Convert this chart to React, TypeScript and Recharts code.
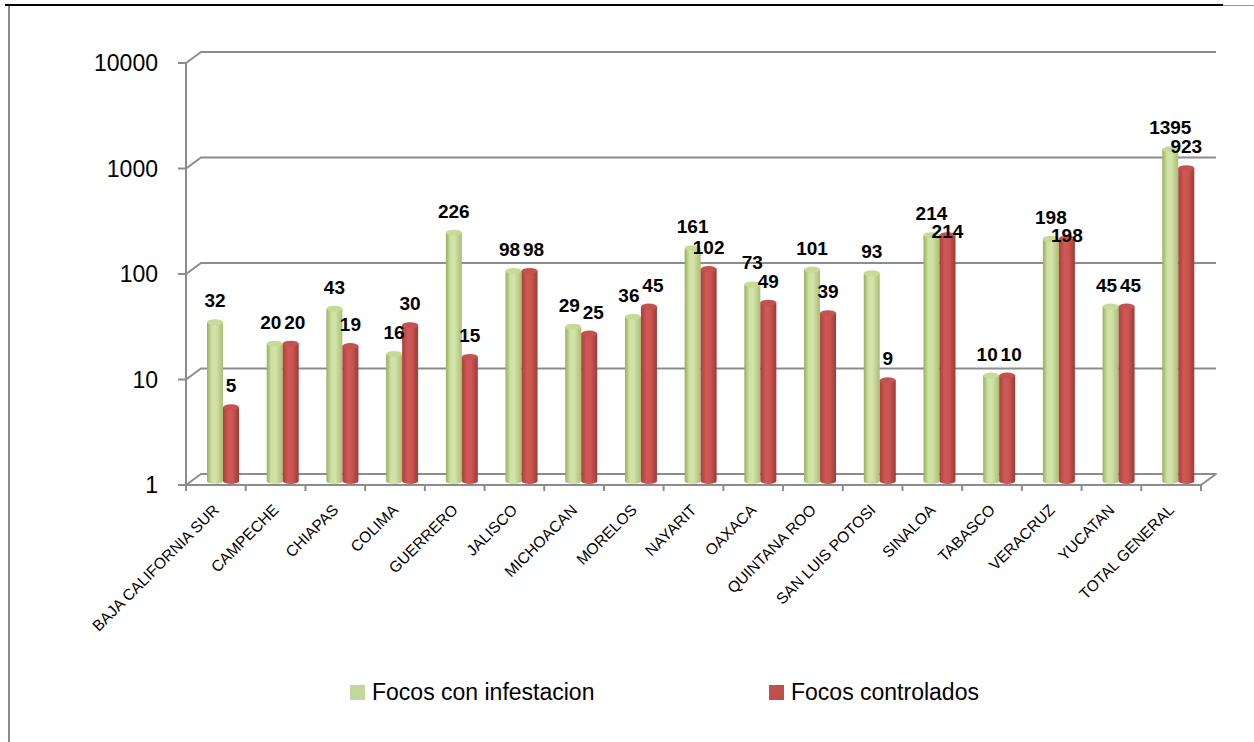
import React from 'react';
import { BarChart, Bar, XAxis, YAxis, CartesianGrid, LabelList } from 'recharts';

const categories = [
  'BAJA CALIFORNIA SUR', 'CAMPECHE', 'CHIAPAS', 'COLIMA', 'GUERRERO', 'JALISCO',
  'MICHOACAN', 'MORELOS', 'NAYARIT', 'OAXACA', 'QUINTANA ROO', 'SAN LUIS POTOSI',
  'SINALOA', 'TABASCO', 'VERACRUZ', 'YUCATAN', 'TOTAL GENERAL',
];
const infestacion = [32, 20, 43, 16, 226, 98, 29, 36, 161, 73, 101, 93, 214, 10, 198, 45, 1395];
const controlados = [5, 20, 19, 30, 15, 98, 25, 45, 102, 49, 39, 9, 214, 10, 198, 45, 923];
const yTicks = [1, 10, 100, 1000, 10000];
const seriesNames = ['Focos con infestacion', 'Focos controlados'];

const data = categories.map((name, i) => ({ name, infestacion: infestacion[i], controlados: controlados[i] }));

const FONT = '"Liberation Sans", Arial, sans-serif';
const GRID = '#8c8c8c';
const DX = 7; // 3D depth shift of bars
const DY = -4;
const BX = 15; // back wall shift
const BY = -11;

const GREEN_LEGEND = '#c3d69b';
const RED_LEGEND = '#c0504d';

function Cylinder(props: any) {
  const { x, y, width, height, grad, cap } = props;
  if (height == null || height <= 0) return null;
  const X = x + DX;
  const Y = y + DY;
  const w = width;
  const ry = 3;
  const d = `M${X},${Y} L${X},${Y + height} A${w / 2},${ry} 0 0 0 ${X + w},${Y + height} L${X + w},${Y} Z`;
  return (
    <g>
      <path d={d} fill={`url(#${grad})`} />
      <ellipse cx={X + w / 2} cy={Y} rx={w / 2} ry={ry} fill={cap} />
    </g>
  );
}

function pairLayout(gTop: number, rTop: number, gCx: number, rCx: number, gText: string, rText: string) {
  const wG = gText.length * 10.5;
  const wR = rText.length * 10.5;
  const H = 14;
  const GAP = 15;
  let gBase = gTop - GAP;
  let rBase = rTop - GAP;
  let gx = gCx;
  let rx = rCx;
  const overlapV = Math.min(gBase, rBase) - Math.max(gBase - H, rBase - H);
  const ox = gx + wG / 2 + 3 - (rx - wR / 2);
  if (overlapV > 0 && ox > 0) {
    if (ox <= 12) {
      gx -= ox / 2;
      rx += ox / 2;
    } else if (rBase < gBase + H + 4) {
      rBase = gBase + H + 4;
    }
  }
  return { gx, gBase, rx, rBase };
}

function makeLabel(series: 'g' | 'r') {
  return (props: any) => {
    const vb = props.viewBox || props;
    const { x, y, width, height } = vb;
    const index = props.index;
    const g = infestacion[index];
    const r = controlados[index];
    const bottom = y + height + DY;
    let gTop: number, rTop: number, gCx: number, rCx: number;
    const cx = x + DX + width / 2;
    if (series === 'g') {
      gTop = y + DY;
      gCx = cx;
      rCx = cx + width;
      const k = height / Math.log10(g);
      rTop = bottom - k * Math.log10(r);
    } else {
      rTop = y + DY;
      rCx = cx;
      gCx = cx - width;
      const k = height / Math.log10(r);
      gTop = bottom - k * Math.log10(g);
    }
    const L = pairLayout(gTop, rTop, gCx, rCx, String(g), String(r));
    const tx = series === 'g' ? L.gx : L.rx;
    const ty = series === 'g' ? L.gBase : L.rBase;
    return (
      <text x={tx} y={ty} textAnchor="middle" fontFamily={FONT} fontWeight="bold" fontSize={19} fill="#000">
        {series === 'g' ? g : r}
      </text>
    );
  };
}

function YTick(props: any) {
  const { x, y, payload } = props;
  return (
    <g>
      <line x1={x - 8} y1={y} x2={x} y2={y} stroke={GRID} strokeWidth={2} />
      <text x={x - 28} y={y} dy={8} textAnchor="end" fontFamily={FONT} fontSize={23} fill="#000">
        {payload.value}
      </text>
    </g>
  );
}

function XTick(props: any) {
  const { x, y, payload, index, visibleTicksCount } = props;
  const off = payload && payload.offset ? payload.offset : 1015 / 17 / 2;
  const last = index === (visibleTicksCount ?? categories.length) - 1;
  return (
    <g>
      <line x1={x - off} y1={y} x2={x - off} y2={y + 6} stroke={GRID} strokeWidth={2} />
      {last && <line x1={x + off} y1={y} x2={x + off} y2={y + 6} stroke={GRID} strokeWidth={2} />}
      <text
        x={x + 4}
        y={y + 26}
        textAnchor="end"
        transform={`rotate(-45 ${x + 4} ${y + 26})`}
        fontFamily={FONT}
        fontSize={15.5}
        fill="#000"
      >
        {payload.value}
      </text>
    </g>
  );
}

function GridLine(p: any) {
  const { x1, y1, x2 } = p;
  const isFloor = p.y != null && p.height != null ? Math.abs(y1 - (p.y + p.height)) < 1 : y1 > 480;
  const pts = `${x1},${y1} ${x1 + BX},${y1 + BY} ${x2 + BX},${y1 + BY}${isFloor ? ` ${x2},${y1}` : ''}`;
  return <polyline key={p.key} points={pts} fill="none" stroke={GRID} strokeWidth={2} strokeLinejoin="round" />;
}

export default function App() {
  return (
    <div style={{ position: 'absolute', left: 0, top: 0, width: 1254, height: 742, background: '#fff', overflow: 'hidden' }}>
      <div style={{ position: 'absolute', left: 5, top: 4, width: 1218, height: 2, background: '#000' }} />
      <div style={{ position: 'absolute', left: 1223, top: 5, width: 31, height: 1, background: '#999' }} />
      <div style={{ position: 'absolute', left: 8, top: 6, width: 2, height: 736, background: '#8a8a8a' }} />
      <div style={{ position: 'absolute', left: 0, top: 0 }}>
        <BarChart
          width={1254}
          height={742}
          data={data}
          margin={{ top: 63, right: 53, left: 0, bottom: 137 }}
          barGap={0}
          barSize={16}
        >
          <defs>
            <linearGradient id="gGreen" x1="0" y1="0" x2="1" y2="0">
              <stop offset="0%" stopColor="#98ae5e" />
              <stop offset="30%" stopColor="#cfe1a4" />
              <stop offset="55%" stopColor="#d3e3ab" />
              <stop offset="100%" stopColor="#a9bf72" />
            </linearGradient>
            <linearGradient id="gRed" x1="0" y1="0" x2="1" y2="0">
              <stop offset="0%" stopColor="#a9403d" />
              <stop offset="35%" stopColor="#cf5955" />
              <stop offset="60%" stopColor="#cd5551" />
              <stop offset="100%" stopColor="#9c3b38" />
            </linearGradient>
          </defs>
          <CartesianGrid vertical={false} horizontal={(p: any) => <GridLine {...p} />} />
          <XAxis
            dataKey="name"
            interval={0}
            height={120}
            tickSize={0}
            tickMargin={0}
            axisLine={{ stroke: GRID, strokeWidth: 2 }}
            tickLine={false}
            tick={<XTick />}
          />
          <YAxis
            type="number"
            scale="log"
            domain={[1, 10000]}
            ticks={yTicks}
            allowDataOverflow
            width={186}
            tickSize={0}
            tickMargin={0}
            axisLine={{ stroke: GRID, strokeWidth: 2 }}
            tickLine={false}
            tick={<YTick />}
          />
          <Bar
            dataKey="infestacion"
            name={seriesNames[0]}
            fill={GREEN_LEGEND}
            isAnimationActive={false}
            shape={(p: any) => <Cylinder {...p} grad="gGreen" cap="#c7da98" />}
          >
            <LabelList dataKey="infestacion" content={makeLabel('g')} />
          </Bar>
          <Bar
            dataKey="controlados"
            name={seriesNames[1]}
            fill={RED_LEGEND}
            isAnimationActive={false}
            shape={(p: any) => <Cylinder {...p} grad="gRed" cap="#c4524e" />}
          >
            <LabelList dataKey="controlados" content={makeLabel('r')} />
          </Bar>
        </BarChart>
      </div>
      <div style={{ position: 'absolute', left: 350, top: 685, width: 15, height: 15, background: GREEN_LEGEND }} />
      <div style={{ position: 'absolute', left: 372, top: 681, fontFamily: FONT, fontSize: 23, lineHeight: '23px', whiteSpace: 'nowrap', color: '#000' }}>
        {seriesNames[0]}
      </div>
      <div style={{ position: 'absolute', left: 769, top: 685, width: 15, height: 15, background: RED_LEGEND }} />
      <div style={{ position: 'absolute', left: 791, top: 681, fontFamily: FONT, fontSize: 23, lineHeight: '23px', whiteSpace: 'nowrap', color: '#000' }}>
        {seriesNames[1]}
      </div>
    </div>
  );
}
